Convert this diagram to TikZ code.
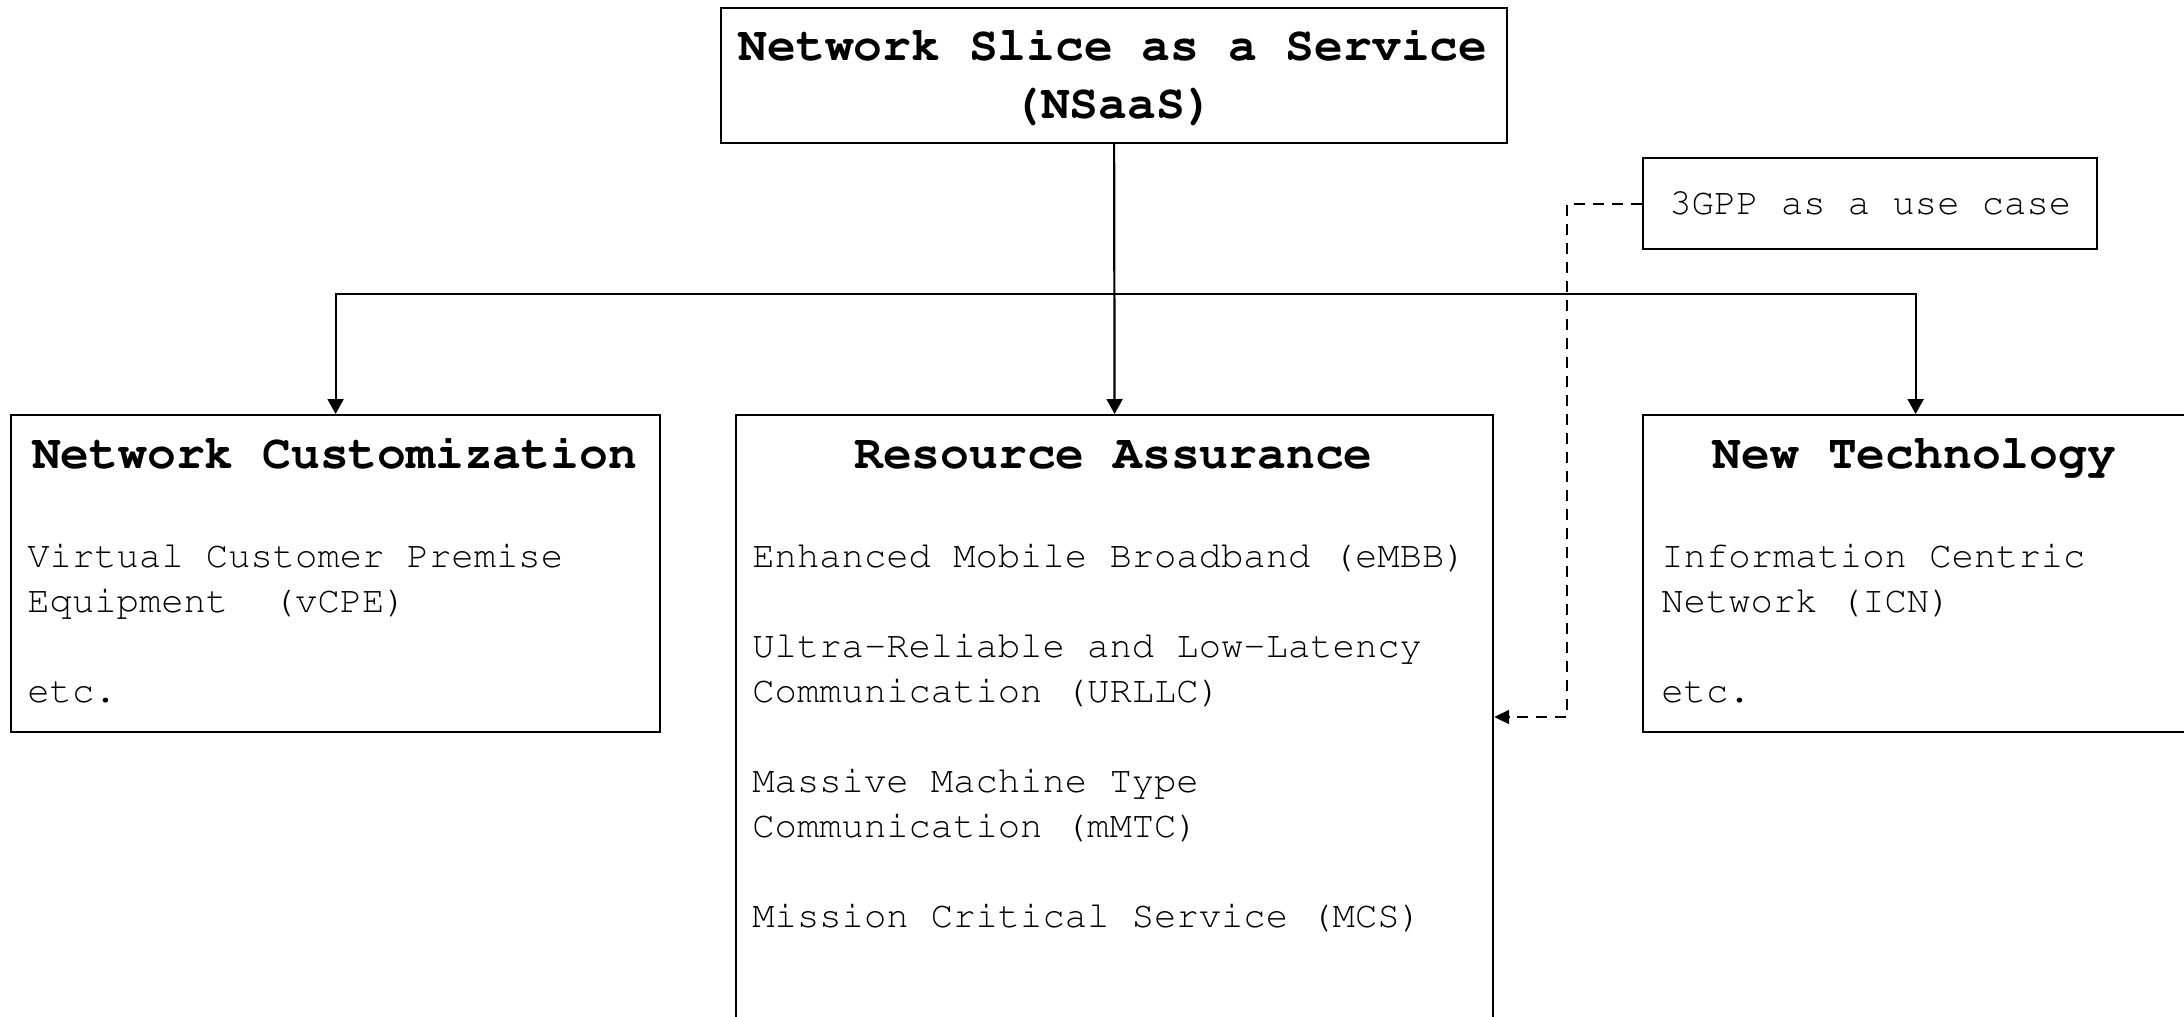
\documentclass[tikz,border=0pt]{standalone}
\usepackage[T1]{fontenc}
\renewcommand{\ttdefault}{pcr}
\usetikzlibrary{arrows.meta}
\begin{document}
\begin{tikzpicture}[x=0.5pt,y=-0.5pt,
  box/.style={draw, line width=1.1pt, inner sep=0pt, anchor=north west},
  ttl/.style={font=\ttfamily\bfseries\fontsize{24pt}{28pt}\selectfont, inner sep=0pt, anchor=base},
  txt/.style={font=\ttfamily\fontsize{18.6pt}{22.5pt}\selectfont, inner sep=0pt, anchor=base west},
  link/.style={line width=1.1pt, -{Triangle[length=7.5pt,width=8pt]}},
  uselink/.style={line width=1.1pt, dash pattern=on 5.5pt off 4pt, -{Triangle[length=7.5pt,width=7pt]}}]

\useasboundingbox (0,0) rectangle (2184,1017);
\clip (0,0) rectangle (2184,1017);

% boxes
\node[box, minimum width=393pt, minimum height=67.5pt] (nsaas) at (720,7) {};
\node[box, minimum width=324.5pt, minimum height=158.5pt] (nc) at (10,414) {};
\node[box, minimum width=378.5pt, minimum height=320pt] (ra) at (735,414) {};
\node[box, minimum width=272.5pt, minimum height=158.5pt] (nt) at (1642,414) {};
\node[box, minimum width=227pt, minimum height=45.5pt] (gpp) at (1642,157) {};

% root title
\node[ttl] (rootA) at (1113,61) {Network Slice as a Service};
\node[ttl] (rootB) at (1113,118) {(NSaaS)};

% Network Customization
\node[ttl] (ncT) at (334.5,468) {Network Customization};
\node[txt] (nc1) at (27,567) {Virtual Customer Premise};
\node[txt] (nc2) at (27,612) {Equipment\ \ (vCPE)};
\node[txt] (nc3) at (27,702) {etc.};

% Resource Assurance
\node[ttl] (raT) at (1113.5,468) {Resource Assurance};
\node[txt] (ra1) at (752,567) {Enhanced Mobile Broadband (eMBB)};
\node[txt] (ra2) at (752,657) {Ultra-Reliable and Low-Latency};
\node[txt] (ra3) at (752,702) {Communication (URLLC)};
\node[txt] (ra4) at (752,792) {Massive Machine Type};
\node[txt] (ra5) at (752,837) {Communication (mMTC)};
\node[txt] (ra6) at (752,927) {Mission Critical Service (MCS)};

% New Technology
\node[ttl] (ntT) at (1914.5,468) {New Technology};
\node[txt] (nt1) at (1661,567) {Information Centric};
\node[txt] (nt2) at (1661,612) {Network (ICN)};
\node[txt] (nt3) at (1661,702) {etc.};

% use case note
\node[txt] (gppT) at (1669,214) {3GPP as a use case};

% tree connectors: trunk, then branches off the horizontal bus
\coordinate (bus) at (1113,294);
\draw[link] (nsaas.south) -- (ra.north);
\draw[link] (bus) -| (nc.north);
\draw[link] (bus) -| (nt.north);

% dashed link from the note
\coordinate (bend) at (1567,717);
\draw[uselink] (gpp.west) -| (bend) -- (ra.east |- bend);
\end{tikzpicture}
\end{document}
